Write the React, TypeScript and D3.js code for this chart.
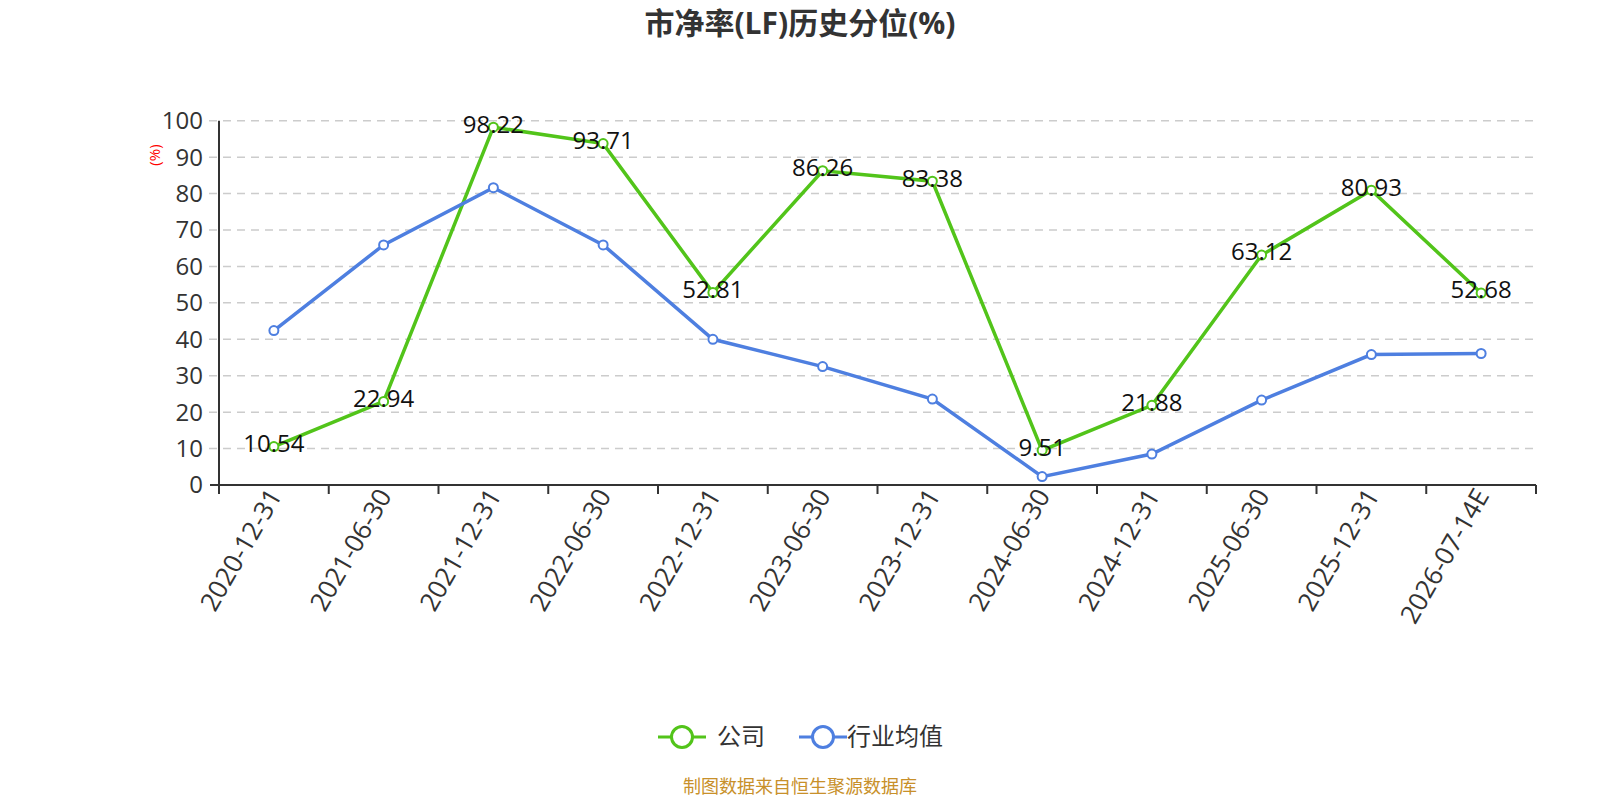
import * as d3 from "d3";
import React from "react";

const categories = [
  "2020-12-31", "2021-06-30", "2021-12-31", "2022-06-30", "2022-12-31", "2023-06-30",
  "2023-12-31", "2024-06-30", "2024-12-31", "2025-06-30", "2025-12-31", "2026-07-14E",
];
const companyValues = [10.54, 22.94, 98.22, 93.71, 52.81, 86.26, 83.38, 9.51, 21.88, 63.12, 80.93, 52.68];
const industryValues = [42.4, 65.9, 81.6, 65.9, 40.0, 32.5, 23.6, 2.3, 8.5, 23.3, 35.8, 36.1];
const yTicks = [0, 10, 20, 30, 40, 50, 60, 70, 80, 90, 100];

const W = 1600;
const H = 800;
const margin = { left: 219, right: 64, top: 120.7, bottom: 315 };
const GREEN = "#52c41a";
const BLUE = "#4e7fe0";
const FONT = "'Open Sans', 'Noto Sans CJK SC', sans-serif";

const App: React.FC = () => {
  const x = d3
    .scaleBand<string>()
    .domain(categories)
    .range([margin.left, W - margin.right]);
  const y = d3
    .scaleLinear()
    .domain([0, 100])
    .range([H - margin.bottom, margin.top]);
  const cx = (c: string) => (x(c) ?? 0) + x.bandwidth() / 2;

  const line = d3
    .line<number>()
    .x((_, i) => cx(categories[i]))
    .y((d) => y(d));

  const bottom = y(0);
  const boundaries = [...categories.map((c) => x(c) ?? 0), W - margin.right];

  const series = [
    { name: "公司", values: companyValues, color: GREEN },
    { name: "行业均值", values: industryValues, color: BLUE },
  ];

  return (
    <div style={{ position: "fixed", left: 0, top: 0, width: W, height: H, overflow: "hidden" }}>
      <svg width={W} height={H} style={{ display: "block" }} fontFamily={FONT}>
        <rect width={W} height={H} fill="#fff" />
        <text x={800} y={34} textAnchor="middle" fontSize={30} fontWeight="bold" fill="#333">
          市净率(LF)历史分位(%)
        </text>

        {/* grid */}
        {yTicks.slice(1).map((t) => (
          <line
            key={t}
            x1={margin.left - 10}
            x2={W - margin.right}
            y1={y(t)}
            y2={y(t)}
            stroke="#ccc"
            strokeWidth={1.5}
            strokeDasharray="8,6"
          />
        ))}

        {/* y axis */}
        <line x1={margin.left} x2={margin.left} y1={bottom} y2={margin.top} stroke="#333" strokeWidth={2} />
        {yTicks.map((t) => (
          <g key={t}>
            <line x1={margin.left - 9} x2={margin.left} y1={y(t)} y2={y(t)} stroke="#333" strokeWidth={t === 0 ? 2 : 0} />
            <text x={margin.left - 16} y={y(t)} dy="0.35em" textAnchor="end" fontSize={24} fill="#333">
              {t}
            </text>
          </g>
        ))}
        <text
          transform={`translate(155,155) rotate(-90)`}
          textAnchor="middle"
          dy="0.35em"
          fontSize={15}
          fill="#f00"
        >
          (%)
        </text>

        {/* x axis */}
        <line x1={margin.left} x2={W - margin.right} y1={bottom} y2={bottom} stroke="#333" strokeWidth={2} />
        {boundaries.map((b, i) => (
          <line key={i} x1={b} x2={b} y1={bottom} y2={bottom + 9} stroke="#333" strokeWidth={2} />
        ))}
        {categories.map((c) => (
          <text
            key={c}
            transform={`translate(${cx(c) + 1},${bottom + 6}) rotate(-60)`}
            textAnchor="end"
            dy="0.35em"
            fontSize={26}
            fill="#333"
          >
            {c}
          </text>
        ))}

        {/* series */}
        {series.map((s) => (
          <g key={s.name}>
            <path d={line(s.values) ?? ""} fill="none" stroke={s.color} strokeWidth={3.5} />
            {s.values.map((v, i) => (
              <circle key={i} cx={cx(categories[i])} cy={y(v)} r={4.5} fill="#fff" stroke={s.color} strokeWidth={2} />
            ))}
          </g>
        ))}

        {/* labels */}
        {companyValues.map((v, i) => (
          <text
            key={i}
            x={cx(categories[i])}
            y={y(v) - 3}
            dy="0.35em"
            textAnchor="middle"
            fontSize={24}
            fill="#111"
          >
            {v.toFixed(2)}
          </text>
        ))}

        {/* legend */}
        {[
          { name: "公司", color: GREEN, x0: 658, tx: 717 },
          { name: "行业均值", color: BLUE, x0: 799, tx: 847 },
        ].map((l) => (
          <g key={l.name}>
            <line x1={l.x0} x2={l.x0 + 48} y1={737} y2={737} stroke={l.color} strokeWidth={3} />
            <circle cx={l.x0 + 24} cy={737} r={10.5} fill="#fff" stroke={l.color} strokeWidth={3} />
            <text x={l.tx} y={737} dy="0.35em" fontSize={24} fill="#333">
              {l.name}
            </text>
          </g>
        ))}

        <text x={800} y={787} textAnchor="middle" dy="0.35em" fontSize={18} fill="#c8902a">
          制图数据来自恒生聚源数据库
        </text>
      </svg>
    </div>
  );
};

export default App;
